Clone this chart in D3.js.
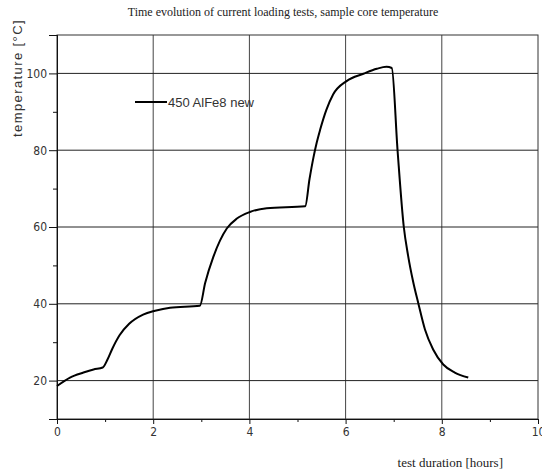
<!DOCTYPE html>
<html>
<head>
<meta charset="utf-8">
<script src="https://cdn.jsdelivr.net/npm/d3@7"></script>
<style>
  body { margin: 0; background: #fff; }
  svg { display: block; }
</style>
</head>
<body>
<div id="chart"></div>
<script>
// data
const hours = [0, 0.27, 0.55, 0.76, 0.95, 1.05, 1.15, 1.30, 1.50, 1.79, 2.04, 2.35, 2.97,
  3.08, 3.25, 3.53, 3.74, 4.01, 4.36, 5.16,
  5.25, 5.33, 5.40, 5.47, 5.60, 5.74, 6.02, 6.37, 6.65, 6.85, 6.96,
  7.08, 7.21, 7.30, 7.40, 7.51, 7.65, 7.82, 8.03, 8.27, 8.55];
const temperature = [18.6, 20.8, 22.1, 22.9, 23.4, 25.5, 28.3, 31.8, 34.8, 37.2, 38.2, 39.0, 39.5,
  45.4, 52.2, 59.6, 62.2, 63.9, 64.9, 65.4,
  72.5, 78.0, 82.0, 85.3, 90.5, 94.5, 98.0, 99.9, 101.2, 101.7, 101.4,
  80.0, 60.0, 52.5, 46.0, 40.2, 33.3, 28.1, 24.2, 22.1, 20.8];
const xTicks = [0, 2, 4, 6, 8, 10];
const yTicks = [20, 40, 60, 80, 100];
const seriesName = "450 AlFe8 new";

const w = 542, h = 473;
const m = { left: 57, right: 538, top: 35, bottom: 419 };

const svg = d3.select("#chart").append("svg")
    .attr("width", w)
    .attr("height", h);

const x = d3.scaleLinear().domain([0, 10]).range([m.left, m.right]);
const y = d3.scaleLinear().domain([10, 110]).range([m.bottom, m.top]);

// grid lines
svg.append("g")
    .selectAll("line")
    .data(xTicks.filter(d => d > 0 && d < 10))
    .join("line")
    .attr("x1", d => x(d)).attr("x2", d => x(d))
    .attr("y1", m.top).attr("y2", m.bottom)
    .attr("stroke", "#444").attr("stroke-width", 1);

svg.append("g")
    .selectAll("line")
    .data(yTicks)
    .join("line")
    .attr("x1", m.left).attr("x2", m.right)
    .attr("y1", d => y(d)).attr("y2", d => y(d))
    .attr("stroke", "#222").attr("stroke-width", 1);

// frame
svg.append("rect")
    .attr("x", m.left).attr("y", m.top)
    .attr("width", m.right - m.left).attr("height", m.bottom - m.top)
    .attr("fill", "none").attr("stroke", "#333").attr("stroke-width", 1);

const tickFont = "'Liberation Sans Narrow', 'DejaVu Sans Condensed', sans-serif";

// x axis
const xAxis = svg.append("g")
    .attr("transform", `translate(0,${m.bottom})`)
    .call(d3.axisBottom(x).tickValues(xTicks).tickSize(5).tickPadding(3));
xAxis.append("g").call(d3.axisBottom(x).tickValues([1, 3, 5, 7, 9]).tickSize(3).tickFormat(""));

// y axis
const yAxis = svg.append("g")
    .attr("transform", `translate(${m.left},0)`)
    .call(d3.axisLeft(y).tickValues(yTicks).tickSize(8).tickPadding(2));
yAxis.append("g").call(d3.axisLeft(y).tickValues([10, 30, 50, 70, 90]).tickSize(4).tickFormat(""));

svg.selectAll(".domain").attr("stroke", "#111");
svg.selectAll(".tick line").attr("stroke", "#111");
svg.selectAll(".tick text")
    .style("font-family", tickFont)
    .style("font-size", "12px")
    .attr("fill", "#333");

// curve
const line = d3.line()
    .x((d, i) => x(hours[i]))
    .y(d => y(d))
    .curve(d3.curveMonotoneX);

svg.append("path")
    .datum(temperature)
    .attr("d", line)
    .attr("fill", "none")
    .attr("stroke", "#000")
    .attr("stroke-width", 2)
    .attr("stroke-linejoin", "round");

// legend
svg.append("line")
    .attr("x1", 135).attr("x2", 167)
    .attr("y1", 102).attr("y2", 102)
    .attr("stroke", "#000").attr("stroke-width", 2);
svg.append("text")
    .attr("x", 168).attr("y", 107)
    .style("font-family", "'Liberation Sans', Arial, sans-serif")
    .style("font-size", "13px")
    .attr("fill", "#333")
    .text(seriesName);

// title and axis labels
svg.append("text")
    .attr("x", 283).attr("y", 16)
    .attr("text-anchor", "middle")
    .style("font-family", "'Liberation Serif', 'Times New Roman', serif")
    .style("font-size", "12px")
    .attr("fill", "#222")
    .text("Time evolution of current loading tests, sample core temperature");

svg.append("text")
    .attr("x", 503).attr("y", 467)
    .attr("text-anchor", "end")
    .style("font-family", "'Liberation Serif', 'Times New Roman', serif")
    .style("font-size", "13px")
    .attr("fill", "#222")
    .text("test duration [hours]");

svg.append("text")
    .attr("transform", "translate(22,78) rotate(-90)")
    .attr("text-anchor", "middle")
    .style("font-family", "'Liberation Sans', Arial, sans-serif")
    .style("font-size", "13px")
    .style("letter-spacing", "1.4px")
    .attr("fill", "#333")
    .text("temperature [°C]");
</script>
</body>
</html>
